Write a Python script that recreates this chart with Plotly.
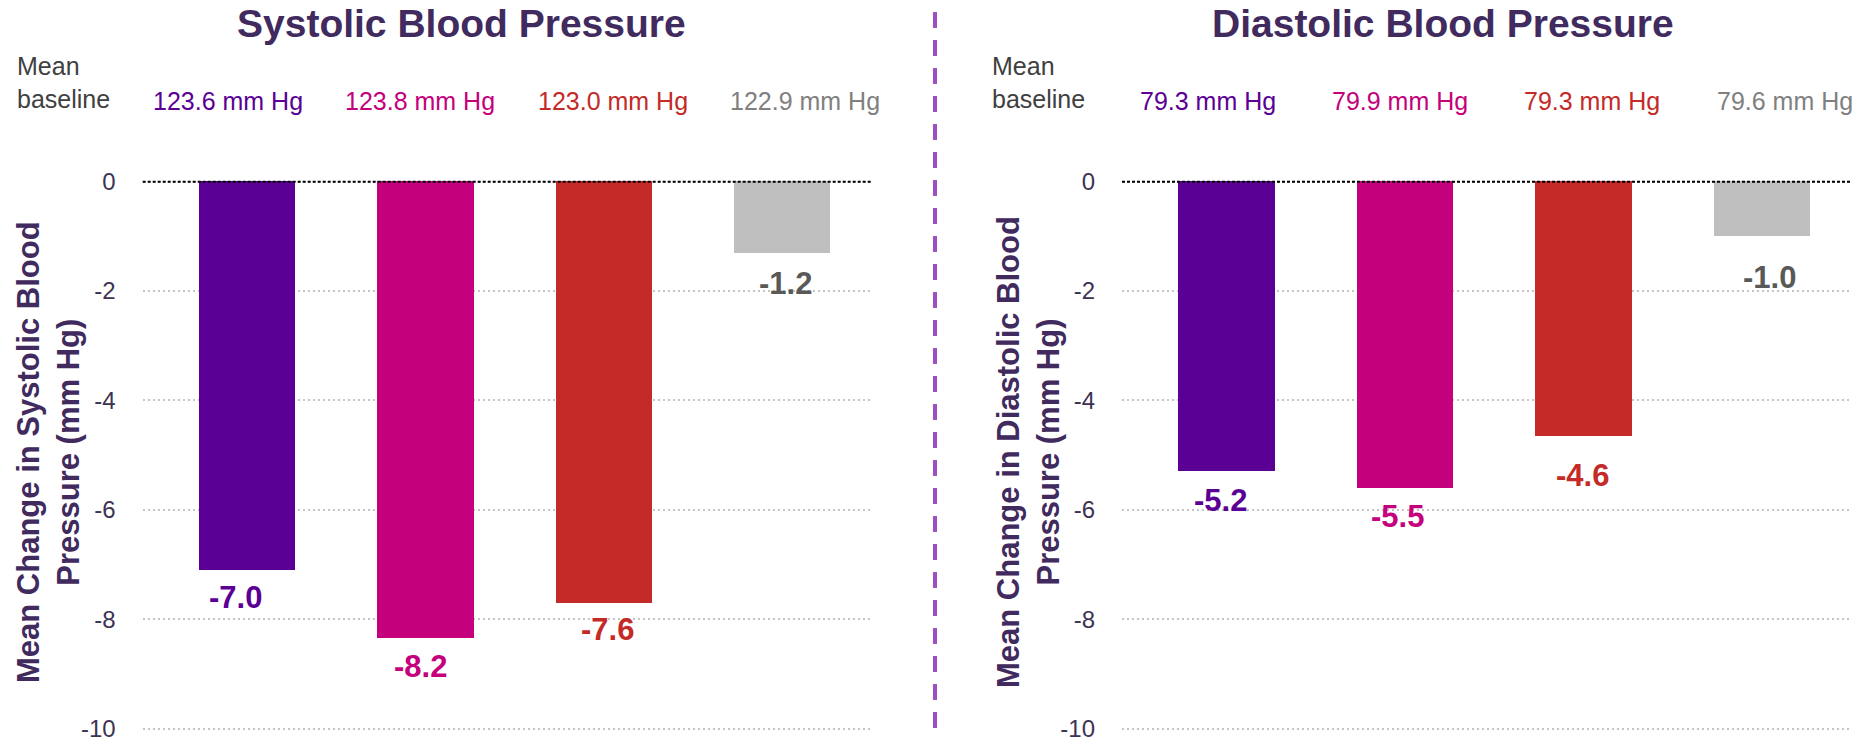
import plotly.graph_objects as go

# ---------------- data ----------------
arms = ["Arm 1", "Arm 2", "Arm 3", "Arm 4"]
sbp_change = [-7.1, -8.35, -7.7, -1.3]
sbp_labels = ["-7.0", "-8.2", "-7.6", "-1.2"]
dbp_change = [-5.3, -5.6, -4.65, -1.0]
dbp_labels = ["-5.2", "-5.5", "-4.6", "-1.0"]
sbp_baseline = ["123.6 mm Hg", "123.8 mm Hg", "123.0 mm Hg", "122.9 mm Hg"]
dbp_baseline = ["79.3 mm Hg", "79.9 mm Hg", "79.3 mm Hg", "79.6 mm Hg"]
y_ticks = [0, -2, -4, -6, -8, -10]

# ---------------- style ----------------
FONT = "Liberation Sans, Arial, sans-serif"
bar_colors = ["#5B0094", "#C4007C", "#C42A27", "#BFBFBF"]
label_colors = ["#5B0094", "#C4007C", "#C42A27", "#595959"]
base_colors = ["#5B0094", "#C4007C", "#C42A27", "#808080"]
title_color = "#402A5E"
tick_color = "#3D3354"
# label nudges (pixels) to mimic the hand-placed value labels
sbp_label_dx = [-11, -5, 4, 4]
sbp_label_dy = [-8, -9, -7, -11]
dbp_label_dx = [-6, -7, -1, 8]
dbp_label_dy = [-9, -9, -20, -22]
W, H = 1857, 740

pos = list(range(len(arms)))
xrange = [-0.585, 3.505]
yrange = [-10.1, 0.1]
ydom = [(H - 734.2) / H, (H - 176.2) / H]

fig = go.Figure()
panels = [
    ("x", "y", sbp_change, sbp_labels, sbp_baseline, "Systolic Blood Pressure",
     "Mean Change in Systolic Blood<br>Pressure (mm Hg)", 461, 48, -0.175, sbp_label_dx, sbp_label_dy),
    ("x2", "y2", dbp_change, dbp_labels, dbp_baseline, "Diastolic Blood Pressure",
     "Mean Change in Diastolic Blood<br>Pressure (mm Hg)", 1443, 1028, -0.181, dbp_label_dx, dbp_label_dy),
]

annotations = []
shapes = []
for xa, ya, vals, labs, bases, title, ytitle, tx, ax_x, mean_x, ldx, ldy in panels:
    fig.add_trace(go.Bar(x=pos, y=vals, width=0.54, marker=dict(color=bar_colors, line=dict(width=0)),
                         xaxis=xa, yaxis=ya, showlegend=False, hoverinfo="y"))
    for i, (v, lab) in enumerate(zip(vals, labs)):
        annotations.append(dict(x=pos[i], y=v, xref=xa, yref=ya, text="<b>%s</b>" % lab,
                                showarrow=False, yanchor="top", xanchor="center",
                                yshift=ldy[i], xshift=ldx[i],
                                font=dict(family=FONT, size=31, color=label_colors[i])))
    for i, b in enumerate(bases):
        annotations.append(dict(x=-0.105 + 1.078 * pos[i], y=(H - 101.5) / H, xref=xa, yref="paper",
                                text=b, showarrow=False, xanchor="center", yanchor="middle",
                                font=dict(family=FONT, size=25, color=base_colors[i])))
    annotations.append(dict(x=mean_x, y=(H - 82.5) / H, xref=xa + " domain", yref="paper",
                            text="Mean<br>baseline", showarrow=False, xanchor="left",
                            yanchor="middle", align="left",
                            font=dict(family=FONT, size=25, color="#404040")))
    annotations.append(dict(x=tx / W, y=(H - 23.5) / H, xref="paper", yref="paper",
                            text="<b>%s</b>" % title, showarrow=False, xanchor="center",
                            yanchor="middle", font=dict(family=FONT, size=39, color=title_color)))
    annotations.append(dict(x=ax_x / W, y=(H - 452) / H, xref="paper", yref="paper",
                            text="<b>%s</b>" % ytitle, showarrow=False, textangle=-90,
                            xanchor="center", yanchor="middle", align="center",
                            font=dict(family=FONT, size=31, color=title_color)))
    shapes.append(dict(type="line", xref=xa + " domain", x0=0, x1=1, yref=ya, y0=0, y1=0,
                       line=dict(color="black", width=2, dash="3px,2px"), layer="above"))

shapes.append(dict(type="line", xref="paper", yref="paper", x0=935 / W, x1=935 / W,
                   y0=(H - 728) / H, y1=(H - 12) / H,
                   line=dict(color="#9A50C2", width=4, dash="16px,12px")))

yaxis_common = dict(range=yrange, domain=ydom, tickvals=y_ticks, ticktext=[str(t) for t in y_ticks],
                    showgrid=True, gridcolor="#C4C4C4", gridwidth=2, griddash="2px,3px",
                    zeroline=False, showline=False, ticks="", ticklabelstandoff=26,
                    ticklabeloverflow="allow", automargin=False,
                    tickfont=dict(family=FONT, size=24, color=tick_color), fixedrange=True)
xaxis_common = dict(range=xrange, showticklabels=False, showgrid=False, zeroline=False,
                    showline=False, ticks="", fixedrange=True, automargin=False)

fig.update_layout(
    width=W, height=H,
    margin=dict(l=0, r=0, t=0, b=0, autoexpand=False),
    paper_bgcolor="white", plot_bgcolor="white",
    xaxis=dict(domain=[142.7 / W, 871.7 / W], anchor="y", **xaxis_common),
    xaxis2=dict(domain=[1122 / W, 1852 / W], anchor="y2", **xaxis_common),
    yaxis=dict(anchor="x", **yaxis_common),
    yaxis2=dict(anchor="x2", **yaxis_common),
    annotations=annotations,
    shapes=shapes,
    bargap=0,
)

fig.write_html("out.html")
